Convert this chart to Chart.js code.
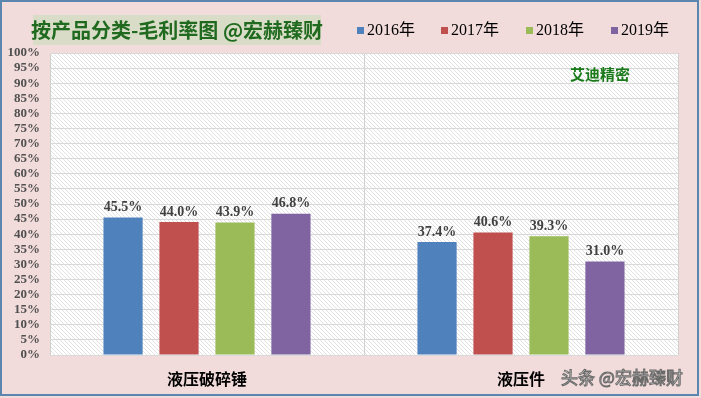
<!DOCTYPE html>
<html>
<head>
<meta charset="utf-8">
<script src="https://cdn.jsdelivr.net/npm/chart.js@4"></script>
<style>
  body { margin: 0; background: #f2dcdb; }
  #wrap { width: 701px; height: 398px; position: relative; }
</style>
</head>
<body>
<div id="wrap"><canvas id="chart" width="701" height="398"></canvas></div>
<script>
// data
const categories = ['液压破碎锤', '液压件'];
const years = ['2016年', '2017年', '2018年', '2019年'];
const v2016 = [45.5, 37.4];
const v2017 = [44.0, 40.6];
const v2018 = [43.9, 39.3];
const v2019 = [46.8, 31.0];
const yTicks = [0, 5, 10, 15, 20, 25, 30, 35, 40, 45, 50, 55, 60, 65, 70, 75, 80, 85, 90, 95, 100];

const colors = ['#4f81bd', '#c0504d', '#9bbb59', '#8064a2'];
const serif = '"Liberation Serif", "Times New Roman", "Noto Sans CJK SC", serif';
const cjk = '"Noto Sans CJK SC", sans-serif';

// diagonal hatch for the plot area
function hatch(ctx) {
  const p = document.createElement('canvas');
  p.width = 4; p.height = 4;
  const g = p.getContext('2d');
  g.fillStyle = '#ffffff';
  g.fillRect(0, 0, 4, 4);
  g.strokeStyle = '#e2e2e2';
  g.lineWidth = 1;
  g.beginPath();
  g.moveTo(0, 0); g.lineTo(4, 4);
  g.moveTo(-1, 3); g.lineTo(1, 5);
  g.moveTo(3, -1); g.lineTo(5, 1);
  g.stroke();
  return ctx.createPattern(p, 'repeat');
}

const decor = {
  id: 'decor',
  beforeDraw(chart) {
    const { ctx, chartArea: a } = chart;
    ctx.save();
    ctx.fillStyle = '#f2dcdb';
    ctx.fillRect(0, 0, chart.width, chart.height);
    ctx.fillStyle = hatch(ctx);
    ctx.fillRect(a.left, a.top, a.right - a.left, a.bottom - a.top);
    ctx.restore();
  },
  afterDraw(chart) {
    const { ctx } = chart;
    ctx.save();
    // title box
    ctx.fillStyle = '#d9dcc6';
    ctx.fillRect(33, 15, 288, 30);
    ctx.fillStyle = '#1f6a1f';
    ctx.font = 'bold 20px "Noto Sans CJK SC", serif';
    ctx.textAlign = 'center';
    ctx.textBaseline = 'middle';
    ctx.fillText('按产品分类-毛利率图 @宏赫臻财', 177, 30);

    // legend
    ctx.textAlign = 'left';
    ctx.font = '16px ' + serif;
    const xs = [357, 441, 526, 611];
    chart.data.datasets.forEach((ds, i) => {
      ctx.fillStyle = ds.backgroundColor;
      ctx.fillRect(xs[i], 27, 7, 7);
      ctx.fillStyle = '#000';
      ctx.fillText(ds.label, xs[i] + 10, 31);
    });

    // company note
    ctx.fillStyle = '#1a7a1a';
    ctx.font = 'bold 15px ' + cjk;
    ctx.fillText('艾迪精密', 570, 74);

    // watermark
    ctx.font = '17px ' + cjk;
    ctx.lineWidth = 1;
    ctx.strokeStyle = '#6a6a6a';
    ctx.fillStyle = 'rgba(255,255,255,0.9)';
    ctx.fillText('头条 @宏赫臻财', 561, 378);
    ctx.strokeText('头条 @宏赫臻财', 561, 378);

    // frame
    ctx.strokeStyle = '#5b86b0';
    ctx.lineWidth = 2;
    ctx.strokeRect(1, 1, 697, 394);
    ctx.restore();
  }
};

const valueLabels = {
  id: 'valueLabels',
  afterDatasetsDraw(chart) {
    const { ctx } = chart;
    ctx.save();
    ctx.font = 'bold 14px ' + serif;
    ctx.fillStyle = '#404040';
    ctx.textAlign = 'center';
    ctx.textBaseline = 'bottom';
    chart.data.datasets.forEach((ds, i) => {
      chart.getDatasetMeta(i).data.forEach((bar, j) => {
        ctx.fillText(ds.data[j].toFixed(1) + '%', bar.x, bar.y - 3);
      });
    });
    ctx.restore();
  }
};

new Chart(document.getElementById('chart'), {
  type: 'bar',
  data: {
    labels: categories,
    datasets: [
      { label: years[0], data: v2016, backgroundColor: colors[0] },
      { label: years[1], data: v2017, backgroundColor: colors[1] },
      { label: years[2], data: v2018, backgroundColor: colors[2] },
      { label: years[3], data: v2019, backgroundColor: colors[3] }
    ]
  },
  options: {
    responsive: false,
    animation: false,
    layout: { padding: { top: 53, right: 23, left: 0, bottom: 0 } },
    datasets: { bar: { categoryPercentage: 0.713, barPercentage: 0.7 } },
    plugins: { legend: { display: false }, tooltip: { enabled: false } },
    scales: {
      x: {
        grid: { color: '#d0d0d0', drawTicks: false, offset: true },
        border: { display: false },
        ticks: { color: '#000', padding: 14, font: { family: cjk, size: 16, weight: 'bold' } },
        afterFit: s => { s.height = 43; }
      },
      y: {
        min: 0, max: 100,
        afterBuildTicks: s => { s.ticks = yTicks.map(v => ({ value: v })); },
        grid: { color: '#d9d9d9', drawTicks: false },
        border: { display: false },
        ticks: { color: '#505050', padding: 10, autoSkip: false, font: { family: serif, size: 13, weight: 'bold' }, callback: v => v + '%' },
        afterFit: s => { s.width = 50; }
      }
    }
  },
  plugins: [decor, valueLabels]
});
</script>
</body>
</html>
